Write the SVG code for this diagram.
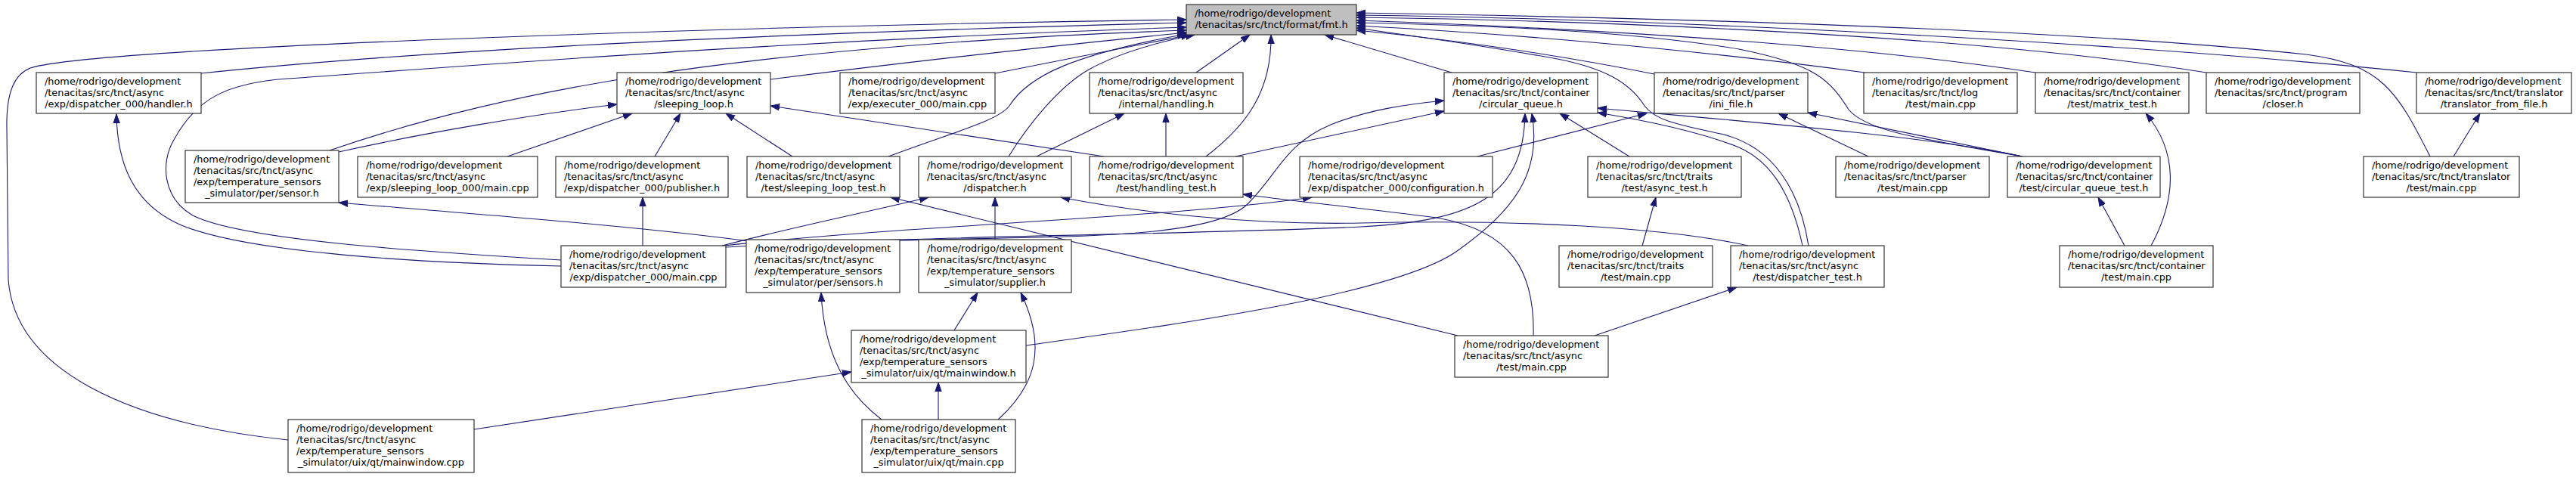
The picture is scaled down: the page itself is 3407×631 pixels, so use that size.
<svg xmlns="http://www.w3.org/2000/svg" width="3407" height="631" viewBox="0 0 3407 631">
<style>
.node rect{fill:#ffffff;stroke:#333333;stroke-width:1.2}
.root rect{fill:#bfbfbf}
.node text{font-family:"DejaVu Sans","Liberation Sans",sans-serif;font-size:12.86px;fill:#000000}
.node text.c{text-anchor:middle}
.edges path{fill:none;stroke:#191970;stroke-width:1.1;marker-end:url(#arr)}
</style>
<defs>
<marker id="arr" markerWidth="13" markerHeight="10" refX="12" refY="5" orient="auto" markerUnits="userSpaceOnUse">
<path d="M0,0.8 L12,5 L0,9.2 z" fill="#191970" stroke="#191970" stroke-width="1"/>
</marker>
</defs>
<rect width="3407" height="631" fill="#ffffff"/>
<g class="edges">
<path d="M381,582 C170,560 20,490 11,370 L9,170 C8,120 20,98 40,90 C130,62 1000,34 1569,26"/>
<path d="M266,97 C600,62 1100,42 1569,30"/>
<path d="M742,344 C560,333 320,318 255,285 C215,262 212,215 230,185 C260,130 300,110 380,104 C560,92 1000,55 1569,36"/>
<path d="M742,352 C560,348 330,335 240,298 C175,270 155,215 154,151"/>
<path d="M436,199 C650,125 950,62 1569,40"/>
<path d="M448,201 C560,176 700,152 816,138"/>
<path d="M1019,105 C1200,82 1400,60 1569,43"/>
<path d="M1316,97 L1574,46"/>
<path d="M1175,207 C1260,175 1320,160 1335,140 C1360,100 1420,72 1569,45"/>
<path d="M1334,207 C1360,165 1400,115 1440,92 C1480,70 1530,56 1580,46"/>
<path d="M1582,96 L1653,46"/>
<path d="M1595,207 C1650,165 1682,120 1681,46"/>
<path d="M1460,207 L1019,140"/>
<path d="M1542,207 L1542,150"/>
<path d="M1371,207 L1487,150"/>
<path d="M671,207 L836,150"/>
<path d="M866,207 L900,150"/>
<path d="M1048,207 L960,150"/>
<path d="M850,325 L850,261"/>
<path d="M990,319 C850,300 650,285 448,268"/>
<path d="M1190,318 C1400,312 1600,318 1650,270 C1690,230 1700,190 1760,165 C1810,145 1860,138 1910,133"/>
<path d="M955,325 C1050,300 1150,280 1228,261"/>
<path d="M958,325 C1200,298 1550,288 1735,261"/>
<path d="M960,327 C1200,312 1600,310 1800,300 C1950,292 2015,260 2017,150"/>
<path d="M1357,457 C1550,430 1850,390 1930,330 C2000,280 2040,230 2026,150"/>
<path d="M627,568 L1126,492"/>
<path d="M1262,437 L1293,387"/>
<path d="M1241,555 L1241,506"/>
<path d="M1320,555 C1370,510 1385,460 1350,387"/>
<path d="M1166,555 C1120,520 1090,470 1086,387"/>
<path d="M1316,317 L1316,261"/>
<path d="M1928,444 L1178,261"/>
<path d="M2028,444 C2030,360 2000,305 1900,288 C1800,275 1700,265 1644,257"/>
<path d="M2312,325 C2200,300 2000,290 1800,295 C1650,298 1500,280 1403,261"/>
<path d="M2109,444 L2297,380"/>
<path d="M2172,325 L2190,261"/>
<path d="M2155,207 L2063,150"/>
<path d="M1954,207 L2178,150"/>
<path d="M1920,96 L1752,46"/>
<path d="M2188,98 C2050,70 1900,50 1794,40"/>
<path d="M2675,207 C2550,180 2300,160 2113,143"/>
<path d="M2675,207 L2391,149"/>
<path d="M2675,207 C2550,185 2470,175 2445,145 C2420,105 2400,85 2300,65 C2150,40 1950,33 1794,30"/>
<path d="M2392,325 C2380,250 2345,195 2280,178 C2220,165 2190,160 2175,140 C2155,108 2120,90 2060,78 C1950,58 1850,45 1794,37"/>
<path d="M2384,325 C2370,260 2345,215 2300,195 C2250,175 2180,160 2113,149"/>
<path d="M2466,96 C2200,60 1950,42 1794,34"/>
<path d="M2692,96 C2400,52 2000,34 1794,27"/>
<path d="M2918,96 C2600,45 2100,27 1794,23"/>
<path d="M3196,96 C2800,55 2200,25 1794,20"/>
<path d="M3214,207 C3170,120 3150,85 3050,72 C2700,35 2100,22 1794,17"/>
<path d="M3245,207 L3280,150"/>
<path d="M2471,207 L2352,150"/>
<path d="M2810,325 L2775,261"/>
<path d="M2845,325 C2880,260 2880,200 2838,150"/>
<path d="M1634,207 L1910,147"/>
</g>
<g id="n-fmt" class="node root"><rect x="1569" y="6" width="225" height="40"/><text x="1580" y="21.5">/home/rodrigo/development</text><text class="c" x="1681.5" y="36.5">/tenacitas/src/tnct/format/fmt.h</text></g>
<g id="n-handler" class="node"><rect x="48" y="96" width="218" height="54"/><text x="59" y="111.5">/home/rodrigo/development</text><text x="59" y="126.5">/tenacitas/src/tnct/async</text><text class="c" x="157" y="141.5">/exp/dispatcher_000/handler.h</text></g>
<g id="n-sleeping-loop" class="node"><rect x="816" y="96" width="203" height="54"/><text x="827" y="111.5">/home/rodrigo/development</text><text x="827" y="126.5">/tenacitas/src/tnct/async</text><text class="c" x="917.5" y="141.5">/sleeping_loop.h</text></g>
<g id="n-executer-main" class="node"><rect x="1111" y="96" width="205" height="54"/><text x="1122" y="111.5">/home/rodrigo/development</text><text x="1122" y="126.5">/tenacitas/src/tnct/async</text><text class="c" x="1213.5" y="141.5">/exp/executer_000/main.cpp</text></g>
<g id="n-handling" class="node"><rect x="1441" y="96" width="203" height="54"/><text x="1452" y="111.5">/home/rodrigo/development</text><text x="1452" y="126.5">/tenacitas/src/tnct/async</text><text class="c" x="1542.5" y="141.5">/internal/handling.h</text></g>
<g id="n-circular-queue" class="node"><rect x="1910" y="96" width="203" height="54"/><text x="1921" y="111.5">/home/rodrigo/development</text><text x="1921" y="126.5">/tenacitas/src/tnct/container</text><text class="c" x="2011.5" y="141.5">/circular_queue.h</text></g>
<g id="n-ini-file" class="node"><rect x="2188" y="96" width="203" height="54"/><text x="2199" y="111.5">/home/rodrigo/development</text><text x="2199" y="126.5">/tenacitas/src/tnct/parser</text><text class="c" x="2289.5" y="141.5">/ini_file.h</text></g>
<g id="n-log-main" class="node"><rect x="2465" y="96" width="203" height="54"/><text x="2476" y="111.5">/home/rodrigo/development</text><text x="2476" y="126.5">/tenacitas/src/tnct/log</text><text class="c" x="2566.5" y="141.5">/test/main.cpp</text></g>
<g id="n-matrix-test" class="node"><rect x="2692" y="96" width="203" height="54"/><text x="2703" y="111.5">/home/rodrigo/development</text><text x="2703" y="126.5">/tenacitas/src/tnct/container</text><text class="c" x="2793.5" y="141.5">/test/matrix_test.h</text></g>
<g id="n-closer" class="node"><rect x="2918" y="96" width="203" height="54"/><text x="2929" y="111.5">/home/rodrigo/development</text><text x="2929" y="126.5">/tenacitas/src/tnct/program</text><text class="c" x="3019.5" y="141.5">/closer.h</text></g>
<g id="n-translator-from-file" class="node"><rect x="3196" y="96" width="205" height="54"/><text x="3207" y="111.5">/home/rodrigo/development</text><text x="3207" y="126.5">/tenacitas/src/tnct/translator</text><text class="c" x="3298.5" y="141.5">/translator_from_file.h</text></g>
<g id="n-sensor" class="node"><rect x="245" y="199" width="203" height="69"/><text x="256" y="214.5">/home/rodrigo/development</text><text x="256" y="229.5">/tenacitas/src/tnct/async</text><text x="256" y="244.5">/exp/temperature_sensors</text><text class="c" x="346.5" y="259.5">_simulator/per/sensor.h</text></g>
<g id="n-sleeping-loop-main" class="node"><rect x="473" y="207" width="238" height="54"/><text x="484" y="222.5">/home/rodrigo/development</text><text x="484" y="237.5">/tenacitas/src/tnct/async</text><text class="c" x="592" y="252.5">/exp/sleeping_loop_000/main.cpp</text></g>
<g id="n-publisher" class="node"><rect x="735" y="207" width="228" height="54"/><text x="746" y="222.5">/home/rodrigo/development</text><text x="746" y="237.5">/tenacitas/src/tnct/async</text><text class="c" x="849" y="252.5">/exp/dispatcher_000/publisher.h</text></g>
<g id="n-sleeping-loop-test" class="node"><rect x="988" y="207" width="202" height="54"/><text x="999" y="222.5">/home/rodrigo/development</text><text x="999" y="237.5">/tenacitas/src/tnct/async</text><text class="c" x="1089" y="252.5">/test/sleeping_loop_test.h</text></g>
<g id="n-dispatcher" class="node"><rect x="1215" y="207" width="202" height="54"/><text x="1226" y="222.5">/home/rodrigo/development</text><text x="1226" y="237.5">/tenacitas/src/tnct/async</text><text class="c" x="1316" y="252.5">/dispatcher.h</text></g>
<g id="n-handling-test" class="node"><rect x="1441" y="207" width="203" height="54"/><text x="1452" y="222.5">/home/rodrigo/development</text><text x="1452" y="237.5">/tenacitas/src/tnct/async</text><text class="c" x="1542.5" y="252.5">/test/handling_test.h</text></g>
<g id="n-configuration" class="node"><rect x="1719" y="207" width="255" height="54"/><text x="1730" y="222.5">/home/rodrigo/development</text><text x="1730" y="237.5">/tenacitas/src/tnct/async</text><text class="c" x="1846.5" y="252.5">/exp/dispatcher_000/configuration.h</text></g>
<g id="n-async-test" class="node"><rect x="2100" y="207" width="203" height="54"/><text x="2111" y="222.5">/home/rodrigo/development</text><text x="2111" y="237.5">/tenacitas/src/tnct/traits</text><text class="c" x="2201.5" y="252.5">/test/async_test.h</text></g>
<g id="n-parser-main" class="node"><rect x="2428" y="207" width="203" height="54"/><text x="2439" y="222.5">/home/rodrigo/development</text><text x="2439" y="237.5">/tenacitas/src/tnct/parser</text><text class="c" x="2529.5" y="252.5">/test/main.cpp</text></g>
<g id="n-circular-queue-test" class="node"><rect x="2655" y="207" width="202" height="54"/><text x="2666" y="222.5">/home/rodrigo/development</text><text x="2666" y="237.5">/tenacitas/src/tnct/container</text><text class="c" x="2756" y="252.5">/test/circular_queue_test.h</text></g>
<g id="n-translator-main" class="node"><rect x="3126" y="207" width="206" height="54"/><text x="3137" y="222.5">/home/rodrigo/development</text><text x="3137" y="237.5">/tenacitas/src/tnct/translator</text><text class="c" x="3229" y="252.5">/test/main.cpp</text></g>
<g id="n-dispatcher-main" class="node"><rect x="742" y="325" width="218" height="55"/><text x="753" y="340.5">/home/rodrigo/development</text><text x="753" y="355.5">/tenacitas/src/tnct/async</text><text class="c" x="851" y="370.5">/exp/dispatcher_000/main.cpp</text></g>
<g id="n-sensors" class="node"><rect x="987" y="317" width="203" height="70"/><text x="998" y="332.5">/home/rodrigo/development</text><text x="998" y="347.5">/tenacitas/src/tnct/async</text><text x="998" y="362.5">/exp/temperature_sensors</text><text class="c" x="1088.5" y="377.5">_simulator/per/sensors.h</text></g>
<g id="n-supplier" class="node"><rect x="1215" y="317" width="202" height="70"/><text x="1226" y="332.5">/home/rodrigo/development</text><text x="1226" y="347.5">/tenacitas/src/tnct/async</text><text x="1226" y="362.5">/exp/temperature_sensors</text><text class="c" x="1316" y="377.5">_simulator/supplier.h</text></g>
<g id="n-traits-main" class="node"><rect x="2062" y="325" width="203" height="55"/><text x="2073" y="340.5">/home/rodrigo/development</text><text x="2073" y="355.5">/tenacitas/src/tnct/traits</text><text class="c" x="2163.5" y="370.5">/test/main.cpp</text></g>
<g id="n-dispatcher-test" class="node"><rect x="2289" y="325" width="203" height="55"/><text x="2300" y="340.5">/home/rodrigo/development</text><text x="2300" y="355.5">/tenacitas/src/tnct/async</text><text class="c" x="2390.5" y="370.5">/test/dispatcher_test.h</text></g>
<g id="n-container-main" class="node"><rect x="2724" y="325" width="203" height="55"/><text x="2735" y="340.5">/home/rodrigo/development</text><text x="2735" y="355.5">/tenacitas/src/tnct/container</text><text class="c" x="2825.5" y="370.5">/test/main.cpp</text></g>
<g id="n-mainwindow-h" class="node"><rect x="1126" y="437" width="231" height="69"/><text x="1137" y="452.5">/home/rodrigo/development</text><text x="1137" y="467.5">/tenacitas/src/tnct/async</text><text x="1137" y="482.5">/exp/temperature_sensors</text><text class="c" x="1241.5" y="497.5">_simulator/uix/qt/mainwindow.h</text></g>
<g id="n-async-main" class="node"><rect x="1924" y="444" width="203" height="55"/><text x="1935" y="459.5">/home/rodrigo/development</text><text x="1935" y="474.5">/tenacitas/src/tnct/async</text><text class="c" x="2025.5" y="489.5">/test/main.cpp</text></g>
<g id="n-mainwindow-cpp" class="node"><rect x="381" y="555" width="246" height="70"/><text x="392" y="570.5">/home/rodrigo/development</text><text x="392" y="585.5">/tenacitas/src/tnct/async</text><text x="392" y="600.5">/exp/temperature_sensors</text><text class="c" x="504" y="615.5">_simulator/uix/qt/mainwindow.cpp</text></g>
<g id="n-qt-main" class="node"><rect x="1140" y="555" width="203" height="70"/><text x="1151" y="570.5">/home/rodrigo/development</text><text x="1151" y="585.5">/tenacitas/src/tnct/async</text><text x="1151" y="600.5">/exp/temperature_sensors</text><text class="c" x="1241.5" y="615.5">_simulator/uix/qt/main.cpp</text></g>
</svg>
